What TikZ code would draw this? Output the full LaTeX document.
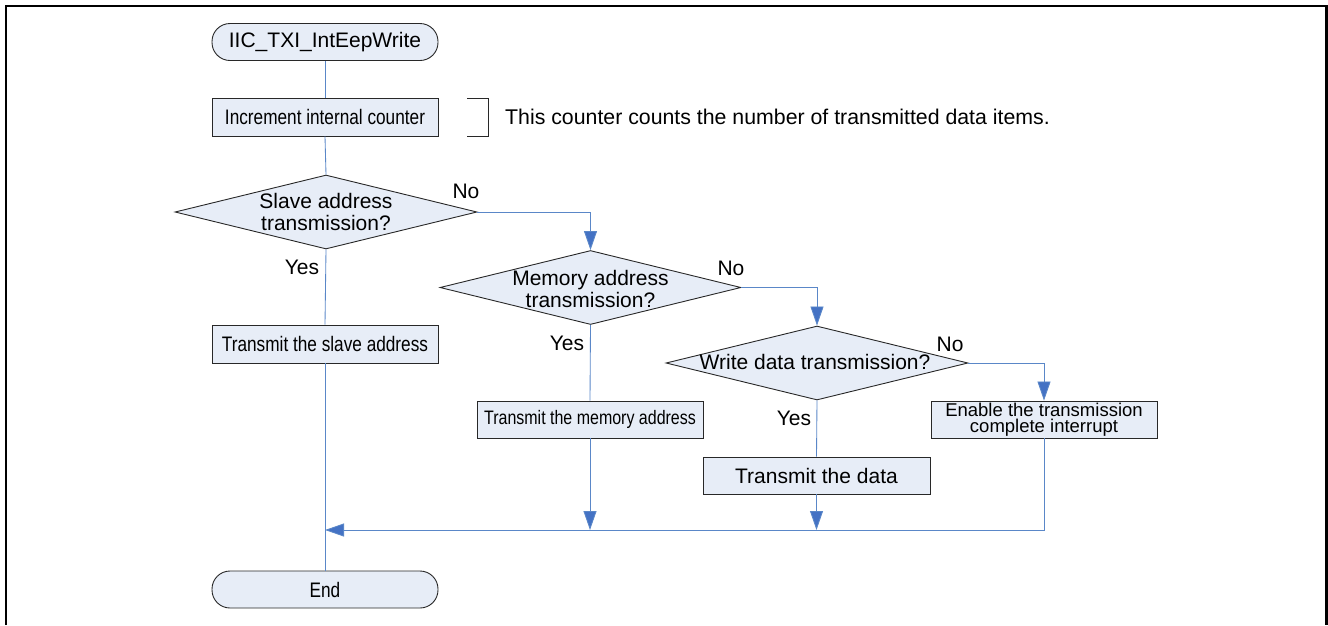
\documentclass[tikz,border=0pt]{standalone}
\usepackage{fontspec}
\setmainfont{Liberation Sans}
\newfontfamily\narrowfont[FakeStretch=0.82]{Liberation Sans}
\usetikzlibrary{shapes.geometric,arrows.meta}
\definecolor{boxfill}{RGB}{231,237,247}
\definecolor{connblue}{RGB}{90,135,200}
\definecolor{tipblue}{RGB}{68,114,196}
\definecolor{edge}{RGB}{40,40,40}
\tikzset{
  base/.style={draw=edge,line width=0.9pt,fill=boxfill,inner sep=0pt,text=black},
  procbox/.style={base,rectangle,minimum width=226pt,minimum height=37pt},
  termbox/.style={base,rectangle,rounded corners=18pt,minimum width=226pt,minimum height=37pt},
  decbox/.style={base,diamond,minimum width=302pt,minimum height=74pt},
  lbl/.style={inner sep=0pt,font=\fontsize{21}{23}\selectfont},
  conn/.style={draw=connblue,line width=0.85pt},
  arr/.style={conn,-{Triangle[length=19pt,width=13pt,fill=tipblue]}},
  bigtxt/.style={font=\fontsize{21}{22}\selectfont},
  nartxt/.style={font=\narrowfont\fontsize{21}{22}\selectfont},
}
\begin{document}
\begin{tikzpicture}[x=1pt,y=-1pt]
\useasboundingbox (0,0) rectangle (1328,625);
% frame
\coordinate (f1) at (6,625); \coordinate (f2) at (6,6);
\coordinate (f3) at (1326.5,6); \coordinate (f4) at (1326.5,625);
\draw[line width=2.2pt] (f1) -- (f2) -- (f3) -- (f4);

% nodes
\node[termbox,bigtxt] (start) at (325,42) {IIC\_TXI\_IntEepWrite};
\node[procbox,nartxt,minimum height=38pt] (inc) at (325,117) {Increment internal counter};
\node[decbox] (d1) at (326,212) {};
\node[bigtxt,align=center,inner sep=0pt] (d1t) at (326,212) {Slave address\\transmission?};
\node[procbox,nartxt,minimum height=38pt] (slave) at (325,344) {Transmit the slave address};
\node[decbox,minimum width=301pt] (d2) at (590.5,287.5) {};
\node[bigtxt,align=center,inner sep=0pt] (d2t) at (590.5,289) {Memory address\\transmission?};
\node[procbox,font=\narrowfont\fontsize{19.5}{21}\selectfont] (mem) at (590,419.5) {Transmit the memory address};
\node[decbox] (d3) at (817,363) {};
\node[bigtxt,inner sep=0pt] (d3t) at (815,362) {Write data transmission?};
\node[procbox,bigtxt,minimum width=227pt] (data) at (816.5,475.5) {Transmit the data};
\node[procbox,align=center,font=\fontsize{18.5}{16.5}\selectfont] (en) at (1044,419.5) {Enable the transmission\\complete interrupt};
\node[termbox,nartxt] (end) at (325,589.5) {End};

% comment bracket
\coordinate (b1) at (467,98.5); \coordinate (b2) at (488,98.5);
\coordinate (b3) at (488,136); \coordinate (b4) at (467,136);
\draw[draw=edge,line width=0.9pt] (b1) -- (b2) -- (b3) -- (b4);
\node[inner sep=0pt,font=\fontsize{21.3}{23}\selectfont,anchor=west] (cmt) at (505,117) {This counter counts the number of transmitted data items.};

% yes/no labels
\node[lbl] (no1) at (466,191) {No};
\node[lbl] (yes1) at (302,267) {Yes};
\node[lbl] (no2) at (731,268) {No};
\node[lbl] (yes2) at (567,343) {Yes};
\node[lbl] (no3) at (950,344) {No};
\node[lbl] (yes3) at (794,418) {Yes};

% merge coordinates
\coordinate (mL) at (325,530);
\coordinate (mM) at (590,530);
\coordinate (mD) at (816.5,530);

% connectors
\draw[conn] (start.south) -- (inc.north);
\draw[conn] (inc.south) -- (d1.north);
\draw[conn] (d1.south) -- (slave.north);
\draw[conn] (slave.south) -- (end.north);
\draw[arr] (d1.east) -| (d2.north);
\draw[conn] (d2.south) -- (mem.north);
\draw[arr] (d2.east) -| (d3.north);
\draw[conn] (d3.south) -- (data.north);
\draw[arr] (d3.east) -| (en.north);
\draw[arr] (mem.south) -- (mM);
\draw[arr] (data.south) -- (mD);
\draw[arr] (en.south) |- (mL);
\end{tikzpicture}
\end{document}
